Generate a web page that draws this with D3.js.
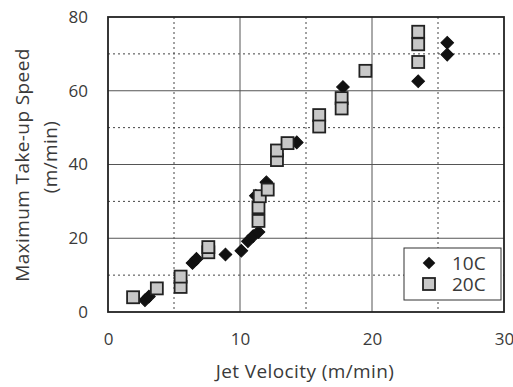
<!DOCTYPE html>
<html>
<head>
<meta charset="utf-8">
<script src="https://cdn.jsdelivr.net/npm/d3@7"></script>
<style>
body{margin:0;background:#fff;}
text{font-family:"Open Sans",Lato,sans-serif;fill:#3a3a3a;}
</style>
</head>
<body>
<div class="visHolder"></div>
<script>
var width=513,
    height=387;

// 10C series (diamonds)
var jet10=[2.8,3.1,6.4,6.7,8.9,10.1,10.6,11.0,11.4,11.2,12.0,14.3,17.8,23.5,25.7,25.7];
var speed10=[3.2,4.2,13.3,14.4,15.6,16.6,19.2,20.6,21.7,31.5,35.2,46,61,62.6,73,69.8];
// 20C series (squares)
var jet20=[1.9,3.7,5.5,5.5,7.6,7.6,11.4,11.4,11.5,12.1,12.8,12.8,13.6,16.0,16.0,17.7,17.7,19.5,23.5,23.5,23.5];
var speed20=[4,6.4,6.8,9.6,16.2,17.6,24.7,28.4,31.4,33.2,41.2,43.8,45.8,53.4,50.3,58,55.2,65.4,76,72.6,67.8];
var xTicks=[0,10,20,30];
var yTicks=[0,20,40,60,80];
var seriesNames=["10C","20C"];

var pLeft=108,pRight=504,pTop=17,pBottom=312;

var svg=d3.select('.visHolder')
  .append('svg')
  .attr('width',width)
  .attr('height',height);

var xScale=d3.scaleLinear().domain([0,30]).range([pLeft,pRight]);
var yScale=d3.scaleLinear().domain([0,80]).range([pBottom,pTop]);

// grid - dashed minor lines
var minorX=[5,15,25], minorY=[10,30,50,70];
svg.append('g').selectAll('line').data(minorX).enter().append('line')
  .attr('x1',d=>xScale(d)).attr('x2',d=>xScale(d))
  .attr('y1',pTop).attr('y2',pBottom)
  .attr('stroke','#444').attr('stroke-width',1).attr('stroke-dasharray','2,3');
svg.append('g').selectAll('line').data(minorY).enter().append('line')
  .attr('y1',d=>yScale(d)).attr('y2',d=>yScale(d))
  .attr('x1',pLeft).attr('x2',pRight)
  .attr('stroke','#444').attr('stroke-width',1).attr('stroke-dasharray','2,3');
// solid major lines
svg.append('g').selectAll('line').data([10,20]).enter().append('line')
  .attr('x1',d=>xScale(d)).attr('x2',d=>xScale(d))
  .attr('y1',pTop).attr('y2',pBottom)
  .attr('stroke','#555').attr('stroke-width',1);
svg.append('g').selectAll('line').data([20,40,60]).enter().append('line')
  .attr('y1',d=>yScale(d)).attr('y2',d=>yScale(d))
  .attr('x1',pLeft).attr('x2',pRight)
  .attr('stroke','#555').attr('stroke-width',1);

// axes (labels only, no tick marks)
var xAxis=d3.axisBottom(xScale).tickValues(xTicks).tickSize(0).tickPadding(21);
var yAxis=d3.axisLeft(yScale).tickValues(yTicks).tickSize(0).tickPadding(20);
var gx=svg.append('g').attr('transform','translate(0,'+pBottom+')').call(xAxis);
var gy=svg.append('g').attr('transform','translate('+pLeft+',0)').call(yAxis);
[gx,gy].forEach(function(g){
  g.select('.domain').remove();
  g.selectAll('text').style('font-size','17px').style('font-family','"Open Sans",sans-serif').attr('fill','#3a3a3a');
});

// frame
svg.append('rect')
  .attr('x',pLeft).attr('y',pTop)
  .attr('width',pRight-pLeft).attr('height',pBottom-pTop)
  .attr('fill','none').attr('stroke','#222').attr('stroke-width',1.8);

// diamonds
var diamond=d3.symbol().type(d3.symbolSquare).size(80);
svg.append('g').selectAll('path').data(jet10).enter().append('path')
  .attr('d',diamond)
  .attr('transform',(d,i)=>'translate('+xScale(d)+','+yScale(speed10[i])+') rotate(45)')
  .attr('fill','#111').attr('stroke','#111').attr('stroke-width',1);

// squares
var sq=12;
svg.append('g').selectAll('rect').data(jet20).enter().append('rect')
  .attr('x',d=>xScale(d)-sq/2)
  .attr('y',(d,i)=>yScale(speed20[i])-sq/2)
  .attr('width',sq).attr('height',sq)
  .attr('fill','#c8c8c8').attr('stroke','#222').attr('stroke-width',1.8);

// legend
var lg=svg.append('g');
lg.append('rect').attr('x',404).attr('y',248).attr('width',97).attr('height',52)
  .attr('fill','#fff').attr('stroke','#333').attr('stroke-width',1);
lg.append('path').attr('d',diamond)
  .attr('transform','translate(429,263) rotate(45)').attr('fill','#111');
lg.append('rect').attr('x',429-sq/2).attr('y',284-sq/2).attr('width',sq).attr('height',sq)
  .attr('fill','#c8c8c8').attr('stroke','#222').attr('stroke-width',1.8);
lg.selectAll('text.lab').data(seriesNames).enter().append('text')
  .attr('class','lab')
  .attr('x',452).attr('y',(d,i)=>270+i*21)
  .style('font-size','19px')
  .text(d=>d);

// axis titles
svg.append('text')
  .attr('x',305).attr('y',378)
  .attr('text-anchor','middle')
  .style('font-size','19px')
  .style('letter-spacing','0.4px')
  .text('Jet Velocity (m/min)');
svg.append('text')
  .attr('transform','translate(29,165) rotate(-90)')
  .attr('text-anchor','middle')
  .style('font-size','19px')
  .style('letter-spacing','0.4px')
  .text('Maximum Take-up Speed');
svg.append('text')
  .attr('transform','translate(57,157) rotate(-90)')
  .attr('text-anchor','middle')
  .style('font-size','19px')
  .style('letter-spacing','0.4px')
  .text('(m/min)');
</script>
</body>
</html>
